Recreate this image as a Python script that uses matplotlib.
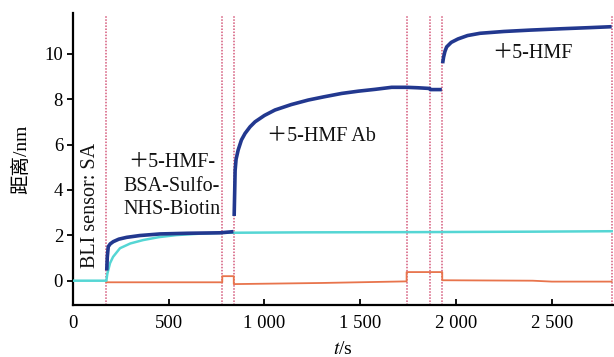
import numpy as np
import matplotlib.pyplot as plt
from matplotlib.ticker import FixedLocator

# step boundaries (s), red dotted markers
step_times = [175, 780, 840, 1742, 1865, 1928, 2812]

# dark blue: sample sensor, three association phases
blue_t1 = [177, 180, 185, 195, 211, 240, 281, 350, 455, 600, 768, 838]
blue_v1 = [0.45, 1.05, 1.50, 1.62, 1.72, 1.83, 1.91, 1.99, 2.06, 2.09, 2.11, 2.16]
blue_t2 = [842, 845, 847, 852, 863, 880, 899, 925, 951, 1000, 1055, 1140, 1229,
           1310, 1403, 1490, 1577, 1664, 1742, 1800, 1862, 1866, 1926]
blue_v2 = [2.85, 4.0, 4.85, 5.35, 5.76, 6.2, 6.49, 6.78, 7.0, 7.28, 7.52, 7.76, 7.96,
           8.1, 8.25, 8.35, 8.43, 8.52, 8.52, 8.50, 8.47, 8.42, 8.42]
blue_t3 = [1930, 1935, 1942, 1951, 1975, 2010, 2060, 2125, 2250, 2386, 2550, 2700, 2812]
blue_v3 = [9.58, 9.85, 10.1, 10.3, 10.5, 10.65, 10.8, 10.9, 10.98, 11.04, 11.1, 11.15, 11.19]

# cyan: reference sensor
cyan_t = [0, 175, 180, 194, 210, 246, 300, 367, 450, 541, 660, 780, 1200, 1800, 2400, 2812]
cyan_v = [0.0, 0.0, 0.3, 0.77, 1.05, 1.43, 1.64, 1.79, 1.92, 2.01, 2.07, 2.11, 2.13, 2.14, 2.16, 2.18]

# orange: blank reference, step offsets
orange_t = [175, 175, 780, 780, 840, 840, 1300, 1742, 1742, 1865, 1928, 1928, 2400, 2500, 2812]
orange_v = [0.0, -0.07, -0.07, 0.2, 0.2, -0.15, -0.1, -0.03, 0.38, 0.38, 0.38, 0.02, 0.0, -0.04, -0.04]

xticks = [0, 500, 1000, 1500, 2000, 2500]
xtick_labels = ["0", "500", "1 000", "1 500", "2 000", "2 500"]
yticks = [0, 2, 4, 6, 8, 10]

fonts = ["Liberation Serif", "Noto Sans CJK SC"]
plt.rcParams["font.family"] = fonts
plt.rcParams["mathtext.fontset"] = "stix"

fig = plt.figure(figsize=(6.14, 3.57), dpi=100)
ax = fig.add_axes([0.1186, 0.1457, 0.8794, 0.817])

for t in step_times:
    ax.axvline(t, ymin=0, ymax=0.993, color="#d4587a", lw=1.1, ls=(0, (1, 1)), zorder=1)

ax.plot(orange_t, orange_v, color="#e8744c", lw=1.3, zorder=2)
ax.plot(cyan_t, cyan_v, color="#55d6d4", lw=1.8, zorder=3)
for tt, vv in [(blue_t1, blue_v1), (blue_t2, blue_v2), (blue_t3, blue_v3)]:
    ax.plot(tt, vv, color="#22388f", lw=2.6, zorder=4, solid_capstyle="butt")

ax.set_xlim(0, 2818)
ax.set_ylim(-1.07, 11.78)
ax.xaxis.set_major_locator(FixedLocator(xticks))
ax.set_xticklabels(xtick_labels)
ax.set_yticks(yticks)

for s in ["top", "right"]:
    ax.spines[s].set_visible(False)
for s in ["left", "bottom"]:
    ax.spines[s].set_linewidth(1.6)

ax.tick_params(axis="y", direction="out", length=4, width=1.3, labelsize=13.5, pad=3)
ax.tick_params(axis="x", direction="in", length=4, width=1.3, labelsize=13.5, pad=7)

ax.set_ylabel("距离/nm", fontsize=14, labelpad=10)
ax.set_xlabel("$t$/s", fontsize=14, labelpad=7)

txt = dict(fontsize=14.5, color="#111111", family=fonts)
ax.text(90, 0.55, "BLI sensor: SA", rotation=90, ha="center", va="bottom", **txt)
ax.text(518, 4.17, "＋5-HMF-\nBSA-Sulfo-\nNHS-Biotin", ha="center", va="center",
        multialignment="center", linespacing=1.32, **txt)
ax.text(1298, 6.34, "＋5-HMF Ab", ha="center", va="center", **txt)
ax.text(2400, 10.0, "＋5-HMF", ha="center", va="center", **txt)

fig.savefig("out.png", dpi=100)
